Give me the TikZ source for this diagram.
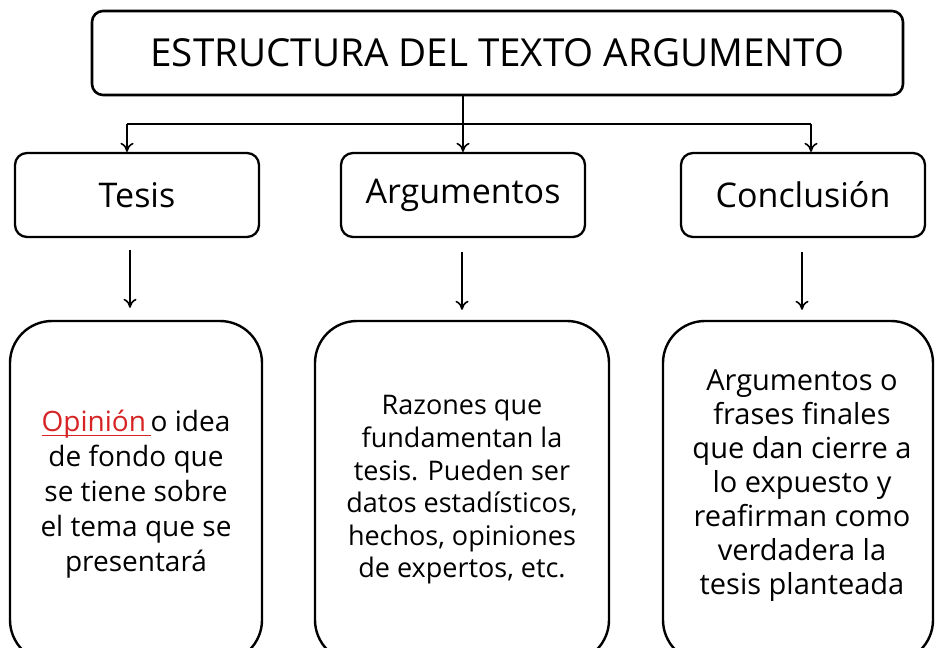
\documentclass[tikz,border=0pt]{standalone}
\usepackage{fontspec}
\setmainfont{Open Sans}
\usetikzlibrary{arrows.meta}
\definecolor{opred}{RGB}{215,35,35}
\newsavebox{\opbox}
\begin{document}
\begin{tikzpicture}[x=1pt,y=-1pt,
  topbox/.style={draw, line width=2.6pt, rounded corners=11pt, inner sep=0pt},
  midbox/.style={draw, line width=2.3pt, rounded corners=12pt, inner sep=0pt, minimum width=244pt, minimum height=84pt, font=\fontsize{34}{38}\selectfont},
  lowbox/.style={draw, line width=2.4pt, rounded corners=42pt, inner sep=0pt, minimum height=341pt},
  lowtext/.style={align=center, inner sep=0pt},
  conn/.style={line width=1.8pt},
  arr/.style={line width=1.8pt, -{To[length=9pt,width=13pt,line width=1.6pt]}}]
\useasboundingbox (0,0) rectangle (935,648);
\clip (0,0) rectangle (935,648);
\fill[white] (0,0) rectangle (935,648);
% title
\node[topbox, minimum width=811pt, minimum height=84pt, font=\fontsize{38.6}{42}\selectfont] (title) at (497.5,53) {ESTRUCTURA DEL TEXTO ARGUMENTO};
% middle boxes
\node[midbox] (tesis) at (137,195) {Tesis};
\node[midbox] (arg) at (463,195) {Argumentos};
\node[midbox] (conc) at (803,195) {Conclusión};
% connectors
\coordinate (j) at (463,124);
\coordinate (hl) at (127,124);
\coordinate (hr) at (811,124);
\draw[conn] (j |- title.south) -- (j);
\draw[conn] (hl) -- (hr);
\draw[arr] (hl) -- (hl |- tesis.north);
\draw[arr] (j) -- (j |- arg.north);
\draw[arr] (hr) -- (hr |- conc.north);
% lower boxes
\node[lowbox, minimum width=252pt] (low1) at (136,491.5) {};
\node[lowbox, minimum width=294pt] (low2) at (462,491.5) {};
\node[lowbox, minimum width=270pt] (low3) at (798,491.5) {};
% lower arrows
\coordinate (a1) at (130,250);
\coordinate (a2) at (462,252);
\coordinate (a3) at (802,252);
\draw[arr] (a1) -- ([yshift=12pt]a1 |- low1.north);
\draw[arr] (a2) -- ([yshift=10pt]a2 |- low2.north);
\draw[arr] (a3) -- ([yshift=10pt]a3 |- low3.north);
% texts
\node[lowtext, font=\fontsize{28}{35}\selectfont] (t1) at (136,494)
  {\sbox{\opbox}{\color{opred}Opinión\,}{\color{opred}\rlap{\rule[-5pt]{\wd\opbox}{1.8pt}}}\usebox{\opbox}o idea\\de fondo que\\se tiene sobre\\el tema que se\\presentará};
\node[lowtext, font=\fontsize{27}{32.6}\selectfont] (t2) at (462,490)
  {Razones que\\fundamentan la\\tesis. Pueden ser\\datos estadísticos,\\hechos, opiniones\\de expertos, etc.};
\node[lowtext, font=\fontsize{29}{34}\selectfont] (t3) at (802,486)
  {Argumentos o\\frases finales\\que dan cierre a\\lo expuesto y\\reafirman como\\verdadera la\\tesis planteada};
\end{tikzpicture}
\end{document}
